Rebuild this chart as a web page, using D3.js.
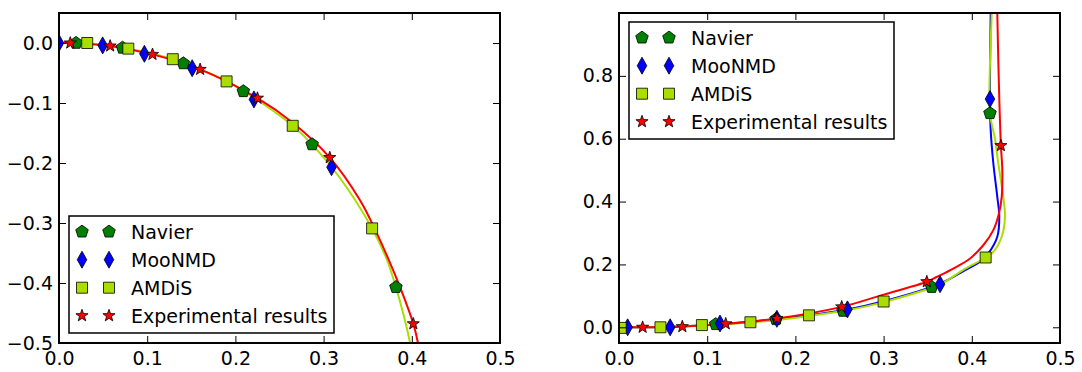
<!DOCTYPE html>
<html>
<head>
<meta charset="utf-8">
<script src="https://cdn.jsdelivr.net/npm/d3@7"></script>
<style>
  body { margin: 0; background: #fff; }
  text { font-family: "DejaVu Sans", sans-serif; }
</style>
</head>
<body>
<div id="chart"></div>
<script>
// tick values
const xTicks = [0, 0.1, 0.2, 0.3, 0.4, 0.5];
const yTicksLeft = [-0.5, -0.4, -0.3, -0.2, -0.1, 0];
const yTicksRight = [0, 0.2, 0.4, 0.6, 0.8];
const seriesNames = ["Navier", "MooNMD", "AMDiS", "Experimental results"];

// left panel: markers [x, y]
const navierLeft = [[0.0193, 0], [0.072, -0.008], [0.141, -0.034], [0.209, -0.0805], [0.287, -0.169], [0.382, -0.407]];
const moonLeft = [[0, 0], [0.0495, -0.004], [0.0968, -0.018], [0.151, -0.042], [0.221, -0.094], [0.309, -0.207]];
const amdisLeft = [[0.032, 0], [0.0786, -0.0094], [0.129, -0.027], [0.19, -0.064], [0.265, -0.138], [0.355, -0.309]];
const expLeft = [[0.0128, 0], [0.058, -0.005], [0.106, -0.019], [0.16, -0.044], [0.225, -0.092], [0.307, -0.191], [0.4017, -0.468]];

// left panel: curves
const amdisLineLeft = [[0, 0], [0.032, -0.001], [0.0786, -0.0094], [0.129, -0.027], [0.19, -0.064], [0.23, -0.1], [0.265, -0.138],
  [0.287, -0.169], [0.3186, -0.225], [0.355, -0.309], [0.3715, -0.36], [0.382, -0.407], [0.391, -0.455], [0.398, -0.5], [0.4, -0.52]];
const expLineLeft = [[0, 0], [0.0128, 0], [0.058, -0.005], [0.106, -0.019], [0.16, -0.044], [0.225, -0.092], [0.265, -0.133],
  [0.307, -0.191], [0.3413, -0.262], [0.36, -0.316], [0.374, -0.362], [0.388, -0.412], [0.4017, -0.468], [0.407, -0.5], [0.409, -0.52]];

// right panel: markers
const navierRight = [[0.1096, 0.0096], [0.178, 0.0255], [0.254, 0.052], [0.3545, 0.128], [0.4206, 0.681]];
const moonRight = [[0.0098, 0], [0.058, 0], [0.1145, 0.012], [0.179, 0.027], [0.259, 0.057], [0.364, 0.137], [0.4206, 0.726]];
const amdisRight = [[0.002, -0.002], [0.047, 0], [0.094, 0.007], [0.149, 0.016], [0.2154, 0.038], [0.3, 0.082], [0.4157, 0.222]];
const expRight = [[0.0268, 0], [0.0718, 0.002], [0.121, 0.011], [0.179, 0.028], [0.2525, 0.065], [0.349, 0.145], [0.433, 0.578]];

// right panel: curves
const moonLineRight = [[0, 0], [0.058, 0.002], [0.1145, 0.01], [0.179, 0.026], [0.259, 0.057], [0.3, 0.083], [0.364, 0.139],
  [0.39, 0.178], [0.409, 0.208], [0.4187, 0.235], [0.4289, 0.288], [0.4312, 0.352], [0.4289, 0.415], [0.4244, 0.522],
  [0.4214, 0.628], [0.4206, 0.7235], [0.4214, 1.0], [0.4215, 1.05]];
const amdisLineRight = [[0, 0], [0.047, 0.001], [0.094, 0.006], [0.149, 0.015], [0.2154, 0.036], [0.26, 0.055], [0.3, 0.08],
  [0.364, 0.137], [0.39, 0.182], [0.4157, 0.222], [0.4244, 0.24], [0.4339, 0.288], [0.4376, 0.352], [0.4357, 0.415],
  [0.43, 0.522], [0.4263, 0.6], [0.4206, 0.681], [0.4225, 1.0], [0.4226, 1.05]];
const expLineRight = [[0, 0], [0.0268, 0], [0.0718, 0.002], [0.121, 0.011], [0.179, 0.028], [0.2525, 0.065], [0.3, 0.104],
  [0.349, 0.145], [0.36, 0.16], [0.379, 0.187], [0.398, 0.219], [0.413, 0.261], [0.4244, 0.309], [0.4308, 0.362],
  [0.4339, 0.415], [0.4346, 0.5], [0.433, 0.578], [0.4312, 0.7235], [0.4289, 1.0], [0.4288, 1.05]];

const colors = {navier: "#007f00", moon: "#0000ff", amdis: "#aadd00", exp: "#ff0000"};

const svg = d3.select("#chart").append("svg")
    .attr("width", 1082)
    .attr("height", 372);

// marker shapes
function pentagon(r) {
  const p = d3.path();
  for (let k = 0; k < 5; k++) {
    const a = -Math.PI / 2 + k * 2 * Math.PI / 5;
    if (k === 0) p.moveTo(r * Math.cos(a), r * Math.sin(a));
    else p.lineTo(r * Math.cos(a), r * Math.sin(a));
  }
  p.closePath();
  return p.toString();
}
function star(ro, ri) {
  const p = d3.path();
  for (let k = 0; k < 10; k++) {
    const a = -Math.PI / 2 + k * Math.PI / 5;
    const r = k % 2 ? ri : ro;
    if (k === 0) p.moveTo(r * Math.cos(a), r * Math.sin(a));
    else p.lineTo(r * Math.cos(a), r * Math.sin(a));
  }
  p.closePath();
  return p.toString();
}
const markers = {
  navier: pentagon(6.6),
  moon: "M0,-8.5L4.8,0L0,8.5L-4.8,0Z",
  amdis: "M-5.5,-5.5H5.5V5.5H-5.5Z",
  exp: star(6.4, 2.6)
};
const keys = ["navier", "moon", "amdis", "exp"];

function panel(opt) {
  const w = opt.x1 - opt.x0, h = opt.y1 - opt.y0;
  const g = svg.append("g").attr("transform", "translate(" + opt.x0 + "," + opt.y0 + ")");

  const x = d3.scaleLinear().domain([0, 0.5]).range([0, w]);
  const y = d3.scaleLinear().domain(opt.yDomain).range([h, 0]);

  g.append("clipPath").attr("id", opt.id)
    .append("rect").attr("width", w).attr("height", h);

  const plot = g.append("g").attr("clip-path", "url(#" + opt.id + ")");

  const line = d3.line()
      .x(d => x(d[0]))
      .y(d => y(d[1]))
      .curve(d3.curveCatmullRom.alpha(0.5));

  opt.lines.forEach(l => {
    plot.append("path")
      .datum(l.data)
      .attr("fill", "none")
      .attr("stroke", colors[l.key])
      .attr("stroke-width", 2)
      .attr("d", line);
  });

  keys.forEach(k => {
    plot.selectAll(null)
      .data(opt.points[k])
      .enter().append("path")
      .attr("d", markers[k])
      .attr("transform", d => "translate(" + x(d[0]) + "," + y(d[1]) + ")")
      .attr("fill", colors[k])
      .attr("stroke", "#000")
      .attr("stroke-width", 0.8);
  });

  const fmt = d3.format(".1f");

  const bottom = g.append("g").attr("transform", "translate(0," + h + ")")
    .call(d3.axisBottom(x).tickValues(xTicks).tickFormat(fmt).tickSizeInner(-7).tickSizeOuter(0).tickPadding(9));
  const top = g.append("g")
    .call(d3.axisTop(x).tickValues(xTicks).tickFormat("").tickSizeInner(-7).tickSizeOuter(0));
  const left = g.append("g")
    .call(d3.axisLeft(y).tickValues(opt.yTicks).tickFormat(fmt).tickSizeInner(-7).tickSizeOuter(0).tickPadding(6));
  const right = g.append("g").attr("transform", "translate(" + w + ",0)")
    .call(d3.axisRight(y).tickValues(opt.yTicks).tickFormat("").tickSizeInner(-7).tickSizeOuter(0));

  [bottom, top, left, right].forEach(a => {
    a.select(".domain").remove();
    a.attr("font-size", 19).attr("font-family", "DejaVu Sans, sans-serif");
    a.selectAll("line").attr("stroke", "#000").attr("stroke-width", 1);
    a.selectAll("text").attr("fill", "#000");
  });

  g.append("rect")
    .attr("width", w).attr("height", h)
    .attr("fill", "none")
    .attr("stroke", "#000")
    .attr("stroke-width", 2);

  // legend
  const lg = g.append("g").attr("transform", "translate(" + (opt.legend[0] - opt.x0) + "," + (opt.legend[1] - opt.y0) + ")");
  lg.append("rect")
    .attr("width", 265).attr("height", 117)
    .attr("fill", "#fff")
    .attr("stroke", "#000")
    .attr("stroke-width", 1.5);
  keys.forEach((k, i) => {
    const cy = 15.7 + 28 * i;
    [13, 40].forEach(mx => {
      lg.append("path")
        .attr("d", markers[k])
        .attr("transform", "translate(" + mx + "," + cy + ")")
        .attr("fill", colors[k])
        .attr("stroke", "#000")
        .attr("stroke-width", 0.8);
    });
    lg.append("text")
      .attr("x", 62).attr("y", cy)
      .attr("dy", "0.36em")
      .attr("font-size", 19)
      .text(seriesNames[i]);
  });
}

panel({
  id: "clipL", x0: 59, x1: 500, y0: 13, y1: 343,
  yDomain: [-0.5, 0.05], yTicks: yTicksLeft,
  lines: [{key: "amdis", data: amdisLineLeft}, {key: "exp", data: expLineLeft}],
  points: {navier: navierLeft, moon: moonLeft, amdis: amdisLeft, exp: expLeft},
  legend: [69, 216]
});

panel({
  id: "clipR", x0: 619, x1: 1060, y0: 13, y1: 343,
  yDomain: [-0.05, 1.0], yTicks: yTicksRight,
  lines: [{key: "moon", data: moonLineRight}, {key: "amdis", data: amdisLineRight}, {key: "exp", data: expLineRight}],
  points: {navier: navierRight, moon: moonRight, amdis: amdisRight, exp: expRight},
  legend: [629, 22]
});
</script>
</body>
</html>
